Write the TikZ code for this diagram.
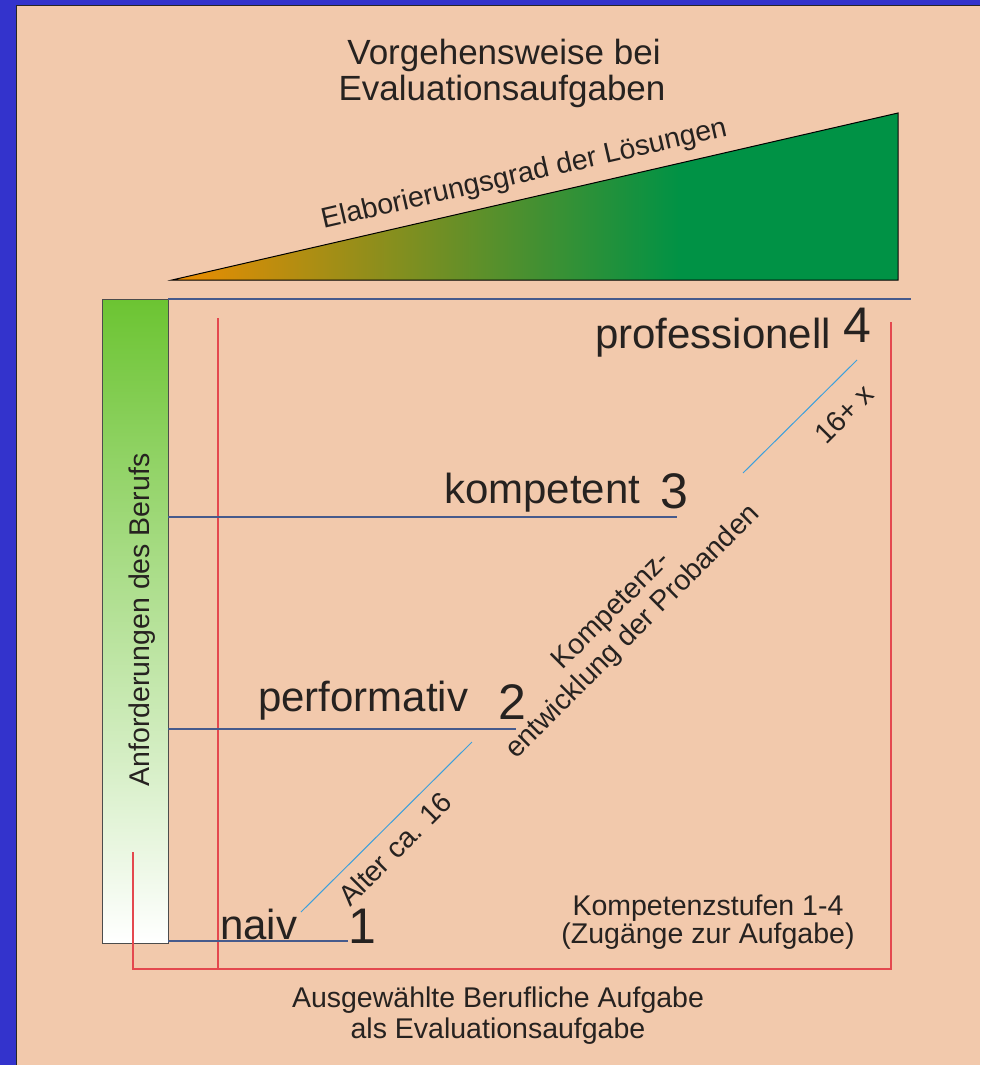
\documentclass[tikz,border=0pt]{standalone}
\usepackage{fontspec}
\setmainfont{Liberation Sans}
\definecolor{peach}{RGB}{242,201,172}
\definecolor{bgblue}{RGB}{51,51,204}
\definecolor{txt}{RGB}{38,34,32}
\definecolor{redl}{RGB}{228,72,78}
\definecolor{bluel}{RGB}{70,90,140}
\definecolor{diagl}{RGB}{60,160,220}
\definecolor{orangeA}{RGB}{238,140,0}
\definecolor{greenA}{RGB}{0,146,69}
\definecolor{barTop}{RGB}{108,196,50}
\definecolor{barMid}{RGB}{160,216,125}
\begin{document}
\begin{tikzpicture}[x=1pt,y=-1pt,
  every node/.style={inner sep=0pt, outer sep=0pt, text=txt},
  small/.style={font=\fontsize{28.5}{30}\selectfont},
  titlefont/.style={font=\fontsize{35}{36}\selectfont},
  big/.style={font=\fontsize{42}{46}\selectfont},
  num/.style={font=\fontsize{50}{54}\selectfont},
  levelline/.style={draw=bluel, line width=1.2pt},
  redline/.style={draw=redl, line width=1.3pt},
  diag/.style={draw=diagl, line width=1pt}]

\useasboundingbox (0,0) rectangle (980,1065);
\fill[bgblue] (0,0) rectangle (980,1065);
\fill[peach] (17,6) rectangle (980,1065);
\draw[black!85, line width=1pt] (16.5,1065) -- (16.5,5.5) -- (980,5.5);

% title
\node[titlefont, anchor=base] (title1) at (504,65) {Vorgehensweise bei};
\node[titlefont, anchor=base] (title2) at (502,100) {Evaluationsaufgaben};

% triangle
\coordinate (tA) at (172,280);
\coordinate (tB) at (898,280);
\coordinate (tC) at (898,113);
\begin{scope}
  \clip (tA) -- (tB) -- (tC) -- cycle;
  \shade[left color=orangeA, right color=greenA] (171,100) rectangle (681,281);
  \fill[greenA] (680.5,100) rectangle (899,281);
\end{scope}
\draw[black, line width=1pt, line join=miter] (tA) -- (tB) -- (tC) -- cycle;
\node[small, rotate=12.95, anchor=base] (elab) at (526,182) {Elaborierungsgrad der Lösungen};

% bar
\node[draw=black!70, line width=1pt, minimum width=66pt, minimum height=644pt,
      anchor=north west, top color=barTop, middle color=barMid, bottom color=white] (bar) at (102,299) {};
\node[small, rotate=90, anchor=base] (anf) at (149,620) {Anforderungen des Berufs};

% red frame
\draw[redline] (133,852) -- (133,969) -- (891,969) -- (891,322);
\draw[redline] (218,318) -- (218,969);

% level lines
\coordinate (l4a) at (168,299); \coordinate (l4b) at (911,299);
\coordinate (l3a) at (168,517); \coordinate (l3b) at (677,517);
\coordinate (l2a) at (168,729); \coordinate (l2b) at (516,729);
\coordinate (l1a) at (168,941); \coordinate (l1b) at (348,941);
\draw[levelline] (l4a) -- (l4b);
\draw[levelline] (l3a) -- (l3b);
\draw[levelline] (l2a) -- (l2b);
\draw[levelline] (l1a) -- (l1b);

% labels
\node[big, anchor=base west] (naiv) at (220,939) {naiv};
\node[num, anchor=base] (n1) at (362,943) {1};
\node[big, anchor=base west] (perf) at (258,711) {performativ};
\node[num, anchor=base] (n2) at (512,719) {2};
\node[big, anchor=base west] (komp) at (444,503) {kompetent};
\node[num, anchor=base] (n3) at (674,508) {3};
\node[big, anchor=base west] (prof) at (595,348) {professionell};
\node[num, anchor=base] (n4) at (857,342) {4};

% diagonals
\coordinate (d1a) at (301,912); \coordinate (d1b) at (472,742);
\coordinate (d2a) at (743,473); \coordinate (d2b) at (857,360);
\draw[diag] (d1a) -- (d1b);
\draw[diag] (d2a) -- (d2b);
\node[small, rotate=45, anchor=base] (alter) at (402,856) {Alter ca. 16};
\node[small, rotate=45, anchor=base] (plus) at (851,421) {16+ x};
\node[small, rotate=45, align=center, font=\fontsize{28.5}{30}\selectfont] (entw) at (623,622) {Kompetenz-\\entwicklung der Probanden};

% bottom texts
\node[small, anchor=base] (ks1) at (708,915) {Kompetenzstufen 1-4};
\node[small, anchor=base] (ks2) at (708,943) {(Zugänge zur Aufgabe)};
\node[small, anchor=base] (au1) at (498,1007) {Ausgewählte Berufliche Aufgabe};
\node[small, anchor=base] (au2) at (498,1038) {als Evaluationsaufgabe};
\end{tikzpicture}
\end{document}
